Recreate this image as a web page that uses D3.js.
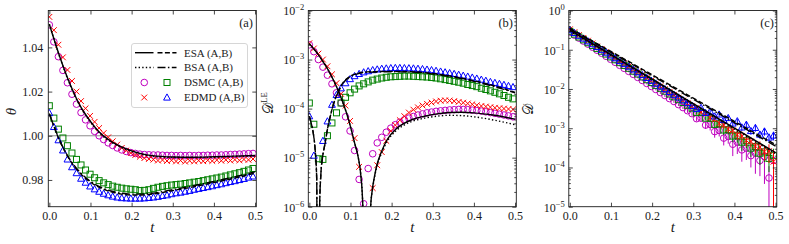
<!DOCTYPE html>
<html>
<head>
<meta charset="utf-8">
<script src="https://cdn.jsdelivr.net/npm/d3@7"></script>
<style>
  body { margin: 0; background: #fff; }
  svg { display: block; }
  svg text { font-family: "Liberation Serif", "DejaVu Serif", serif; }
  svg text.cal { font-family: "DejaVu Sans", serif; }
</style>
</head>
<body>
<svg id="fig" width="789" height="244"></svg>
<script>
// sample times of the simulation points (same grid in every panel)
const tPts = d3.range(46).map(i => +(i * 0.011).toFixed(3));

// ---- panel (a): theta ----
const thA_dsmc = [1.0502, 1.0425, 1.0358, 1.0296, 1.0240, 1.0188, 1.0143, 1.0105, 1.0072, 1.0045,
  1.0020, 1.0000, 0.9983, 0.9968, 0.9956, 0.9945, 0.9936, 0.9929, 0.9924, 0.9920,
  0.9917, 0.9915, 0.9914, 0.9913, 0.9913, 0.9912, 0.9911, 0.9911, 0.9910, 0.9911,
  0.9910, 0.9911, 0.9910, 0.9911, 0.9911, 0.9912, 0.9912, 0.9913, 0.9913, 0.9914,
  0.9915, 0.9916, 0.9917, 0.9918, 0.9919, 0.9920];
const thB_dsmc = [1.0136, 1.0080, 1.0030, 0.9990, 0.9955, 0.9922, 0.9893, 0.9868, 0.9845, 0.9826,
  0.9810, 0.9797, 0.9787, 0.9779, 0.9772, 0.9767, 0.9763, 0.9760, 0.9758, 0.9756,
  0.9752, 0.9753, 0.9756, 0.9762, 0.9767, 0.9771, 0.9774, 0.9777, 0.9779, 0.9781,
  0.9784, 0.9787, 0.9790, 0.9793, 0.9797, 0.9801, 0.9805, 0.9809, 0.9813, 0.9818,
  0.9823, 0.9828, 0.9833, 0.9839, 0.9845, 0.9852];
const thA_edmd = [1.0538, 1.0478, 1.0412, 1.0355, 1.0298, 1.0248, 1.0200, 1.0157, 1.0124, 1.0090,
  1.0063, 1.0035, 1.0012, 0.9993, 0.9975, 0.9960, 0.9945, 0.9933, 0.9922, 0.9913,
  0.9905, 0.9899, 0.9895, 0.9892, 0.9888, 0.9890, 0.9886, 0.9889, 0.9884, 0.9888,
  0.9883, 0.9887, 0.9884, 0.9888, 0.9885, 0.9889, 0.9886, 0.9890, 0.9887, 0.9891,
  0.9888, 0.9892, 0.9889, 0.9893, 0.9891, 0.9895];
const thB_edmd = [1.0103, 1.0040, 0.9980, 0.9934, 0.9893, 0.9858, 0.9831, 0.9806, 0.9788, 0.9771,
  0.9758, 0.9747, 0.9738, 0.9731, 0.9725, 0.9721, 0.9718, 0.9717, 0.9716, 0.9716,
  0.9716, 0.9717, 0.9719, 0.9721, 0.9724, 0.9728, 0.9731, 0.9736, 0.9740, 0.9743,
  0.9747, 0.9751, 0.9756, 0.9760, 0.9764, 0.9768, 0.9772, 0.9777, 0.9781, 0.9786,
  0.9791, 0.9795, 0.9800, 0.9805, 0.9811, 0.9816];

const tLineA = [0, 0.025, 0.05, 0.075, 0.1, 0.125, 0.15, 0.175, 0.2, 0.225, 0.25, 0.3, 0.35, 0.4, 0.45, 0.5];
const thA_esa = [1.0505, 1.0360, 1.0235, 1.0135, 1.0065, 1.0010, 0.9975, 0.9950, 0.9932, 0.9918, 0.9910, 0.9904, 0.9903, 0.9905, 0.9908, 0.9911];
const thA_bsa = [1.0505, 1.0358, 1.0232, 1.0132, 1.0062, 1.0007, 0.9972, 0.9947, 0.9929, 0.9916, 0.9908, 0.9902, 0.9901, 0.9903, 0.9906, 0.9909];
const thB_esa = [1.0100, 0.9978, 0.9890, 0.9830, 0.9790, 0.9763, 0.9746, 0.9736, 0.9732, 0.9732, 0.9736, 0.9752, 0.9769, 0.9788, 0.9808, 0.9831];
const thB_bsa = [1.0100, 0.9980, 0.9893, 0.9834, 0.9794, 0.9767, 0.9750, 0.9740, 0.9736, 0.9736, 0.9740, 0.9756, 0.9774, 0.9793, 0.9814, 0.9837];

// ---- panel (b): D^LE ----
const leA_dsmc = [2.0e-3, 1.45e-3, 1.0e-3, 7.0e-4, 4.8e-4, 3.2e-4, 2.1e-4, 1.3e-4, 6.8e-5, 3.5e-5,
  1.4e-5, 3.6e-6, 1.15e-6, 6.0e-6, 1.2e-5, 2.0e-5, 2.6e-5, 3.3e-5, 4.0e-5, 4.7e-5,
  5.3e-5, 5.9e-5, 6.4e-5, 6.9e-5, 7.4e-5, 7.8e-5, 8.2e-5, 8.5e-5, 8.8e-5, 9.0e-5,
  9.2e-5, 9.4e-5, 9.5e-5, 9.6e-5, 9.6e-5, 9.5e-5, 9.3e-5, 9.1e-5, 8.9e-5, 8.6e-5,
  8.3e-5, 8.0e-5, 7.7e-5, 7.4e-5, 7.1e-5, 6.8e-5];
const leB_dsmc = [1.3e-4, 4.8e-5, 9.5e-6, 9.2e-6, 2.8e-5, 5.1e-5, 8.2e-5, 1.3e-4, 1.7e-4, 2.1e-4,
  2.5e-4, 2.9e-4, 3.2e-4, 3.5e-4, 3.8e-4, 4.0e-4, 4.2e-4, 4.35e-4, 4.45e-4, 4.5e-4,
  4.55e-4, 4.6e-4, 4.6e-4, 4.55e-4, 4.5e-4, 4.45e-4, 4.4e-4, 4.3e-4, 4.2e-4, 4.05e-4,
  3.9e-4, 3.75e-4, 3.6e-4, 3.45e-4, 3.3e-4, 3.1e-4, 2.95e-4, 2.8e-4, 2.6e-4, 2.45e-4,
  2.3e-4, 2.15e-4, 2.0e-4, 1.85e-4, 1.7e-4, 1.58e-4];
const leA_edmd = [2.15e-3, 1.68e-3, 1.32e-3, 1.0e-3, 7.3e-4, 5.0e-4, 3.3e-4, 2.0e-4, 1.15e-4, 5.6e-5,
  2.5e-5, 6.5e-6, 8e-8, 5e-8, 2.4e-6, 7.0e-6, 1.3e-5, 2.2e-5, 3.5e-5, 4.6e-5,
  5.8e-5, 7.0e-5, 8.3e-5, 9.5e-5, 1.06e-4, 1.16e-4, 1.25e-4, 1.33e-4, 1.40e-4, 1.45e-4,
  1.47e-4, 1.46e-4, 1.42e-4, 1.37e-4, 1.32e-4, 1.27e-4, 1.22e-4, 1.17e-4, 1.13e-4, 1.10e-4,
  1.07e-4, 1.04e-4, 1.02e-4, 1.0e-4, 9.8e-5, 9.6e-5];
const leB_edmd = [7.0e-5, 1.1e-5, 5e-8, 2.2e-5, 5.5e-5, 1.2e-4, 1.9e-4, 2.6e-4, 3.3e-4, 4.0e-4,
  4.6e-4, 5.1e-4, 5.5e-4, 5.8e-4, 6.1e-4, 6.3e-4, 6.5e-4, 6.6e-4, 6.7e-4, 6.75e-4,
  6.75e-4, 6.7e-4, 6.65e-4, 6.6e-4, 6.5e-4, 6.4e-4, 6.25e-4, 6.1e-4, 5.9e-4, 5.7e-4,
  5.5e-4, 5.3e-4, 5.1e-4, 4.9e-4, 4.7e-4, 4.5e-4, 4.3e-4, 4.1e-4, 3.9e-4, 3.7e-4,
  3.5e-4, 3.35e-4, 3.2e-4, 3.05e-4, 2.9e-4, 2.75e-4];

const tLeA = [0, 0.01, 0.02, 0.03, 0.04, 0.05, 0.06, 0.07, 0.08, 0.09, 0.10, 0.11, 0.119, 0.125, 0.130, 0.134,
  0.146, 0.149, 0.153, 0.158, 0.165, 0.175, 0.19, 0.21, 0.23, 0.25, 0.28, 0.31, 0.34, 0.37, 0.40, 0.45, 0.50];
const leA_esa = [2.1e-3, 1.68e-3, 1.32e-3, 1.0e-3, 7.4e-4, 5.3e-4, 3.6e-4, 2.35e-4, 1.45e-4, 8.3e-5, 4.3e-5, 2.0e-5, 1.0e-5, 4.5e-6, 1.0e-6, 1e-9,
  1e-9, 1.0e-6, 2.2e-6, 4.0e-6, 7.5e-6, 1.3e-5, 2.4e-5, 3.8e-5, 5.0e-5, 6.0e-5, 7.0e-5, 7.8e-5, 8.3e-5, 8.4e-5, 8.2e-5, 7.3e-5, 6.1e-5];
const leA_bsa = [2.1e-3, 1.68e-3, 1.32e-3, 1.0e-3, 7.4e-4, 5.3e-4, 3.6e-4, 2.35e-4, 1.45e-4, 8.3e-5, 4.3e-5, 2.0e-5, 1.0e-5, 4.5e-6, 1.0e-6, 1e-9,
  1e-9, 1.0e-6, 2.1e-6, 3.8e-6, 7.0e-6, 1.2e-5, 2.2e-5, 3.5e-5, 4.6e-5, 5.5e-5, 6.4e-5, 7.0e-5, 7.3e-5, 7.2e-5, 6.8e-5, 5.8e-5, 4.7e-5];
const tLeB = [0, 0.005, 0.01, 0.014, 0.018, 0.0195, 0.0235, 0.025, 0.028, 0.032, 0.038, 0.044, 0.05, 0.06, 0.07,
  0.08, 0.09, 0.10, 0.12, 0.14, 0.17, 0.2, 0.23, 0.26, 0.3, 0.35, 0.4, 0.45, 0.5];
const leB_esa = [7.0e-5, 4.9e-5, 3.0e-5, 1.5e-5, 3.5e-6, 1e-9, 1e-9, 1.0e-6, 4.5e-6, 1.0e-5, 1.9e-5, 3.8e-5, 6.5e-5, 1.35e-4, 2.2e-4,
  3.2e-4, 4.0e-4, 4.6e-4, 5.3e-4, 5.6e-4, 5.7e-4, 5.75e-4, 5.7e-4, 5.6e-4, 5.2e-4, 4.5e-4, 3.7e-4, 2.9e-4, 2.15e-4];
const leB_bsa = [7.0e-5, 4.9e-5, 3.0e-5, 1.5e-5, 3.5e-6, 1e-9, 1e-9, 1.0e-6, 4.5e-6, 1.0e-5, 1.9e-5, 3.8e-5, 6.4e-5, 1.33e-4, 2.15e-4,
  3.1e-4, 3.9e-4, 4.5e-4, 5.2e-4, 5.5e-4, 5.6e-4, 5.65e-4, 5.6e-4, 5.5e-4, 5.1e-4, 4.4e-4, 3.6e-4, 2.8e-4, 2.1e-4];

// ---- panel (c): D ----
const dA_dsmc = [0.282, 0.236, 0.198, 0.166, 0.139, 0.116, 0.0973, 0.0815, 0.0682, 0.0571,
  0.0479, 0.0401, 0.0336, 0.0281, 0.0236, 0.0197, 0.0165, 0.0138, 0.0116, 9.7e-3,
  8.1e-3, 6.8e-3, 5.7e-3, 4.8e-3, 4.0e-3, 3.35e-3, 2.8e-3, 2.35e-3, 1.75e-3, 1.8e-3,
  1.2e-3, 1.25e-3, 8.2e-4, 8.8e-4, 5.6e-4, 6.2e-4, 3.9e-4, 4.4e-4, 2.8e-4, 3.1e-4,
  2.0e-4, 2.3e-4, 1.5e-4, 1.9e-4, 5.4e-5, 1.5e-4];
const dB_dsmc = [0.295, 0.250, 0.211, 0.179, 0.151, 0.128, 0.108, 0.0916, 0.0775, 0.0656,
  0.0555, 0.0469, 0.0397, 0.0336, 0.0284, 0.0240, 0.0203, 0.0172, 0.0146, 0.0123,
  0.0104, 8.8e-3, 7.46e-3, 6.31e-3, 5.34e-3, 4.52e-3, 3.82e-3, 3.24e-3, 2.5e-3, 2.5e-3,
  1.8e-3, 1.8e-3, 1.25e-3, 1.3e-3, 9.0e-4, 9.2e-4, 6.3e-4, 6.6e-4, 4.4e-4, 4.8e-4,
  3.1e-4, 3.4e-4, 2.3e-4, 2.5e-4, 1.7e-4, 2.0e-4];
const dA_edmd = [0.331, 0.280, 0.237, 0.200, 0.170, 0.144, 0.121, 0.103, 0.0869, 0.0736,
  0.0622, 0.0526, 0.0446, 0.0377, 0.0319, 0.0270, 0.0228, 0.0193, 0.0163, 0.0138,
  0.0117, 9.89e-3, 8.37e-3, 7.08e-3, 6.0e-3, 5.07e-3, 4.29e-3, 3.63e-3, 3.3e-3, 2.6e-3,
  2.35e-3, 1.86e-3, 1.7e-3, 1.33e-3, 1.2e-3, 9.5e-4, 8.8e-4, 6.8e-4, 6.3e-4, 4.9e-4,
  4.6e-4, 3.5e-4, 3.3e-4, 2.5e-4, 2.6e-4, 1.4e-4];
const dB_edmd = [0.316, 0.268, 0.228, 0.193, 0.164, 0.139, 0.118, 0.100, 0.0847, 0.0718,
  0.0610, 0.0517, 0.0439, 0.0372, 0.0315, 0.0267, 0.0227, 0.0192, 0.0163, 0.0138,
  0.0117, 9.96e-3, 8.45e-3, 7.16e-3, 6.08e-3, 5.15e-3, 4.38e-3, 3.71e-3, 3.09e-3, 3.31e-3,
  2.45e-3, 2.69e-3, 2.0e-3, 2.24e-3, 1.62e-3, 1.82e-3, 1.32e-3, 1.51e-3, 1.05e-3, 1.23e-3,
  8.5e-4, 1.02e-3, 6.9e-4, 8.3e-4, 5.8e-4, 6.5e-4];
// relative error bars (sigma / value)
const errA_dsmc = [0.03, 0.03, 0.03, 0.03, 0.03, 0.03, 0.03, 0.03, 0.03, 0.03, 0.05, 0.05, 0.05, 0.05, 0.05, 0.05, 0.05, 0.05, 0.05, 0.05,
  0.08, 0.08, 0.08, 0.08, 0.08, 0.08, 0.12, 0.12, 0.15, 0.15, 0.2, 0.3, 0.3, 0.3, 0.35, 0.35, 0.5, 0.5, 0.5, 0.5, 0.5, 0.7, 0.6, 0.8, 1.0, 0.8];
const errB_dsmc = [0.03, 0.03, 0.03, 0.03, 0.03, 0.03, 0.03, 0.03, 0.03, 0.03, 0.05, 0.05, 0.05, 0.05, 0.05, 0.05, 0.05, 0.05, 0.05, 0.05,
  0.08, 0.08, 0.08, 0.08, 0.08, 0.08, 0.12, 0.12, 0.12, 0.12, 0.12, 0.2, 0.2, 0.2, 0.25, 0.25, 0.3, 0.35, 0.4, 0.35, 0.4, 0.45, 0.5, 0.45, 0.55, 0.5];
const errA_edmd = [0.03, 0.03, 0.03, 0.03, 0.03, 0.03, 0.03, 0.03, 0.03, 0.03, 0.05, 0.05, 0.05, 0.05, 0.05, 0.05, 0.05, 0.05, 0.05, 0.05,
  0.08, 0.08, 0.08, 0.08, 0.08, 0.08, 0.1, 0.1, 0.1, 0.12, 0.12, 0.15, 0.15, 0.2, 0.2, 0.2, 0.25, 0.25, 0.3, 0.3, 0.3, 0.35, 0.4, 0.4, 0.5, 1.0];
const errB_edmd = [0.03, 0.03, 0.03, 0.03, 0.03, 0.03, 0.03, 0.03, 0.03, 0.03, 0.04, 0.04, 0.04, 0.04, 0.04, 0.04, 0.04, 0.04, 0.04, 0.04,
  0.06, 0.06, 0.06, 0.06, 0.06, 0.06, 0.08, 0.08, 0.08, 0.08, 0.1, 0.1, 0.1, 0.12, 0.12, 0.15, 0.15, 0.15, 0.18, 0.18, 0.2, 0.2, 0.22, 0.22, 0.25, 0.25];

const tLineC = [0, 0.1, 0.2, 0.3, 0.4, 0.5];
const dA_esa = [0.316, 0.0752, 0.0179, 4.25e-3, 1.01e-3, 2.4e-4];
const dB_esa = [0.355, 0.0904, 0.0230, 5.86e-3, 1.49e-3, 3.8e-4];
const dA_bsa = [0.300, 0.0720, 0.0170, 4.0e-3, 9.5e-4, 2.25e-4];
const dB_bsa = [0.340, 0.0860, 0.0218, 5.5e-3, 1.39e-3, 3.5e-4];

const tTicks = [0, 0.1, 0.2, 0.3, 0.4, 0.5];
const thTicks = [0.98, 1.00, 1.02, 1.04];
const leTicks = [1e-6, 1e-5, 1e-4, 1e-3, 1e-2];
const dTicks = [1e-5, 1e-4, 1e-3, 1e-2, 1e-1, 1e0];

const col = { mag: "#bf00bf", green: "#008000", red: "#ff0000", blue: "#0000ff" };
const dash = { solid: null, dashed: "5,2.4", dotted: "1.4,2.2", dashdot: "8,2.4,1.5,2.4" };

const svg = d3.select("#fig");
const W = 208, yTop = 10.5, yBot = 206.7;
const ink = "#1a1a1a";

// marker shapes
function marker(sel, kind, c) {
  if (kind === "o") sel.append("circle").attr("r", 3.3).attr("fill", "none").attr("stroke", c);
  if (kind === "s") sel.append("rect").attr("x", -3).attr("y", -3).attr("width", 6).attr("height", 6).attr("fill", "none").attr("stroke", c);
  if (kind === "^") sel.append("path").attr("d", "M0,-3.6L3.4,2.6L-3.4,2.6Z").attr("fill", "none").attr("stroke", c);
  if (kind === "x") sel.append("path").attr("d", "M-2.9,-2.9L2.9,2.9M-2.9,2.9L2.9,-2.9").attr("fill", "none").attr("stroke", c);
  sel.selectAll("*").attr("stroke-width", 1);
}

function makePanel(x0, y, name) {
  const x = d3.scaleLinear().domain([-0.0025, 0.503]).range([x0, x0 + W]);
  const g = svg.append("g");
  svg.append("clipPath").attr("id", "clip" + name)
    .append("rect").attr("x", x0).attr("y", yTop).attr("width", W).attr("height", yBot - yTop);
  const plot = g.append("g").attr("clip-path", `url(#clip${name})`);
  return { x, y, g, plot, x0 };
}

function frame(p, yMajor, isLog, yFmt) {
  const { x, y, g, x0 } = p;
  const style = a => {
    a.attr("font-family", null).attr("font-size", null);
    a.select(".domain").remove();
    a.selectAll("line").attr("stroke", ink).attr("stroke-width", 0.8);
    a.selectAll("text").attr("fill", ink).attr("font-size", 12);
  };
  g.append("g").attr("transform", `translate(0,${yBot})`)
    .call(d3.axisBottom(x).tickValues(tTicks).tickSizeInner(-4).tickSizeOuter(0).tickPadding(5).tickFormat(d3.format(".1f")))
    .call(style);
  g.append("g").attr("transform", `translate(0,${yTop})`)
    .call(d3.axisTop(x).tickValues(tTicks).tickSizeInner(-4).tickSizeOuter(0).tickFormat(""))
    .call(style);
  const left = g.append("g").attr("transform", `translate(${x0},0)`)
    .call(d3.axisLeft(y).tickValues(yMajor).tickSizeInner(-4).tickSizeOuter(0).tickPadding(5).tickFormat(isLog ? "" : yFmt))
    .call(style);
  g.append("g").attr("transform", `translate(${x0 + W},0)`)
    .call(d3.axisRight(y).tickValues(yMajor).tickSizeInner(-4).tickSizeOuter(0).tickFormat(""))
    .call(style);
  if (isLog) {
    const [lo, hi] = y.domain();
    const minor = [];
    for (let e = Math.round(Math.log10(lo)); e < Math.round(Math.log10(hi)); e++)
      for (let m = 2; m <= 9; m++) minor.push(m * Math.pow(10, e));
    g.append("g").attr("transform", `translate(${x0},0)`)
      .call(d3.axisLeft(y).tickValues(minor).tickSizeInner(-2).tickSizeOuter(0).tickFormat("")).call(style);
    g.append("g").attr("transform", `translate(${x0 + W},0)`)
      .call(d3.axisRight(y).tickValues(minor).tickSizeInner(-2).tickSizeOuter(0).tickFormat("")).call(style);
    left.selectAll(".tick").each(function (d) {
      const t = d3.select(this).append("text").attr("x", -4).attr("dy", "0.36em")
        .attr("text-anchor", "end").attr("fill", ink).attr("font-size", 12);
      t.append("tspan").text("10");
      const ex = Math.round(Math.log10(d));
      t.append("tspan").attr("font-size", 8.5).attr("dy", -5).text(ex < 0 ? "\u2212" + (-ex) : ex);
    });
  }
  g.append("rect").attr("x", x0).attr("y", yTop).attr("width", W).attr("height", yBot - yTop)
    .attr("fill", "none").attr("stroke", ink).attr("stroke-width", 0.9);
  g.append("text").attr("x", x0 + W / 2).attr("y", 232).attr("text-anchor", "middle")
    .attr("font-style", "italic").attr("font-size", 15).attr("fill", ink).text("t");
}

function scatter(p, vals, kind, c, err) {
  const pts = vals.map((v, i) => ({ t: tPts[i], v, e: err ? err[i] * v : 0 }));
  if (err) {
    p.plot.append("g").selectAll("line").data(pts).join("line")
      .attr("x1", d => p.x(d.t)).attr("x2", d => p.x(d.t))
      .attr("y1", d => p.y(Math.max(d.v - d.e, 1e-9))).attr("y2", d => p.y(d.v + d.e))
      .attr("stroke", c).attr("stroke-width", 1);
  }
  p.plot.append("g").selectAll("g").data(pts).join("g")
    .attr("transform", d => `translate(${p.x(d.t)},${p.y(d.v)})`)
    .each(function () { marker(d3.select(this), kind, c); });
}

function curve(p, ts, vals, style, smooth) {
  const line = d3.line().x(d => p.x(d[0])).y(d => p.y(d[1]))
    .curve(smooth ? d3.curveMonotoneX : d3.curveLinear);
  p.plot.append("path").datum(ts.map((t, i) => [t, vals[i]]))
    .attr("d", line).attr("fill", "none").attr("stroke", "#000")
    .attr("stroke-width", 1.4).attr("stroke-dasharray", dash[style]);
}

// ---------- (a) ----------
const pa = makePanel(48.3, d3.scaleLinear().domain([0.9679, 1.0567]).range([yBot, yTop]), "a");
pa.plot.append("line").attr("x1", pa.x0).attr("x2", pa.x0 + W).attr("y1", pa.y(1)).attr("y2", pa.y(1))
  .attr("stroke", "#8c8c8c").attr("stroke-width", 1);
scatter(pa, thA_dsmc, "o", col.mag);
scatter(pa, thB_dsmc, "s", col.green);
scatter(pa, thA_edmd, "x", col.red);
scatter(pa, thB_edmd, "^", col.blue);
curve(pa, tLineA, thA_esa, "solid", true);
curve(pa, tLineA, thB_esa, "dashed", true);
curve(pa, tLineA, thA_bsa, "dotted", true);
curve(pa, tLineA, thB_bsa, "dashdot", true);
frame(pa, thTicks, false, d3.format(".2f"));
const thy = pa.y(1.011);
pa.g.append("text").attr("transform", `translate(15.5,${thy}) rotate(-90)`)
  .attr("text-anchor", "middle").attr("font-style", "italic").attr("font-size", 15).attr("fill", ink).text("θ");
pa.g.append("text").attr("x", 253).attr("y", 27).attr("text-anchor", "end").attr("font-size", 12.5).attr("fill", ink).text("(a)");

// legend
const lg = pa.g.append("g");
lg.append("rect").attr("x", 131.5).attr("y", 43.5).attr("width", 116).attr("height", 64).attr("rx", 2.5)
  .attr("fill", "#fff").attr("fill-opacity", 0.85).attr("stroke", "#cccccc").attr("stroke-width", 0.8);
const legRows = [
  { y: 52.7, a: ["line", "solid"], b: ["line", "dashed"], label: "ESA (A,B)" },
  { y: 67.5, a: ["line", "dotted"], b: ["line", "dashdot"], label: "BSA (A,B)" },
  { y: 82.5, a: ["mk", "o", col.mag], b: ["mk", "s", col.green], label: "DSMC (A,B)" },
  { y: 97.5, a: ["mk", "x", col.red], b: ["mk", "^", col.blue], label: "EDMD (A,B)" }
];
legRows.forEach(r => {
  [[r.a, 135, 153.5], [r.b, 157.5, 176.5]].forEach(([h, xa, xb]) => {
    if (h[0] === "line") {
      lg.append("line").attr("x1", xa).attr("x2", xb).attr("y1", r.y).attr("y2", r.y)
        .attr("stroke", "#000").attr("stroke-width", 1.4).attr("stroke-dasharray", dash[h[1]]);
    } else {
      marker(lg.append("g").attr("transform", `translate(${(xa + xb) / 2},${r.y})`), h[1], h[2]);
    }
  });
  lg.append("text").attr("x", 184).attr("y", r.y + 3.8).attr("font-size", 11).attr("fill", "#222").text(r.label);
});

// ---------- (b) ----------
const pb = makePanel(308.3, d3.scaleLog().domain([1e-6, 1e-2]).range([yBot, yTop]), "b");
scatter(pb, leA_dsmc, "o", col.mag);
scatter(pb, leB_dsmc, "s", col.green);
scatter(pb, leA_edmd, "x", col.red);
scatter(pb, leB_edmd, "^", col.blue);
curve(pb, tLeA, leA_esa, "solid", true);
curve(pb, tLeB, leB_esa, "dashed", true);
curve(pb, tLeA, leA_bsa, "dotted", true);
curve(pb, tLeB, leB_bsa, "dashdot", true);
frame(pb, leTicks, true);
const lb = pb.g.append("text").attr("transform", "translate(273,103) rotate(-90)")
  .attr("text-anchor", "middle").attr("font-size", 15).attr("fill", ink);
lb.append("tspan").attr("class", "cal").attr("font-size", 14).text("𝒟");
lb.append("tspan").attr("font-size", 8.5).attr("dy", -6).text("LE");
pb.g.append("text").attr("x", 513).attr("y", 27).attr("text-anchor", "end").attr("font-size", 12.5).attr("fill", ink).text("(b)");

// ---------- (c) ----------
const pc = makePanel(568.8, d3.scaleLog().domain([1e-5, 1]).range([yBot, yTop]), "c");
scatter(pc, dA_dsmc, "o", col.mag, errA_dsmc);
scatter(pc, dB_dsmc, "s", col.green, errB_dsmc);
scatter(pc, dA_edmd, "x", col.red, errA_edmd);
scatter(pc, dB_edmd, "^", col.blue, errB_edmd);
curve(pc, tLineC, dA_esa, "solid", false);
curve(pc, tLineC, dB_esa, "dashed", false);
curve(pc, tLineC, dA_bsa, "dotted", false);
curve(pc, tLineC, dB_bsa, "dashdot", false);
frame(pc, dTicks, true);
pc.g.append("text").attr("class", "cal").attr("transform", "translate(533,109) rotate(-90)")
  .attr("text-anchor", "middle").attr("font-size", 14).attr("fill", ink).text("𝒟");
pc.g.append("text").attr("x", 774).attr("y", 27).attr("text-anchor", "end").attr("font-size", 12.5).attr("fill", ink).text("(c)");
</script>
</body>
</html>
